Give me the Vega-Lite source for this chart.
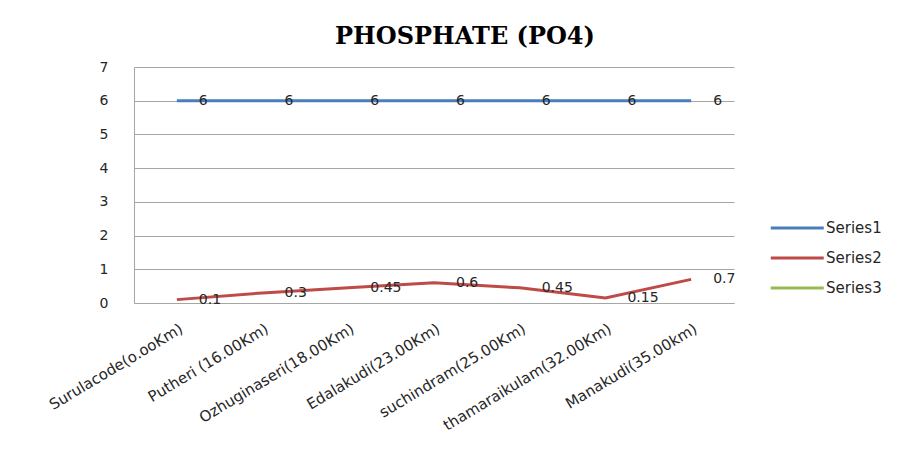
{
  "$schema": "https://vega.github.io/schema/vega-lite/v6.json",
  "autosize": {"type": "none"},
  "padding": {"left": 134, "top": 67, "right": 184, "bottom": 162},
  "width": 600,
  "height": 236,
  "background": "white",
  "title": {
    "text": "PHOSPHATE (PO4)",
    "font": "DejaVu Serif",
    "fontSize": 24,
    "fontWeight": "bold",
    "color": "black",
    "anchor": "middle",
    "baseline": "alphabetic",
    "offset": 20,
    "dx": 31,
    "dy": 28
  },
  "data": {
    "values": [
      {"site": "Surulacode(o.ooKm)", "series": "Series1", "value": 6},
      {"site": "Putheri (16.00Km)", "series": "Series1", "value": 6},
      {"site": "Ozhuginaseri(18.00Km)", "series": "Series1", "value": 6},
      {"site": "Edalakudi(23.00Km)", "series": "Series1", "value": 6},
      {"site": "suchindram(25.00Km)", "series": "Series1", "value": 6},
      {"site": "thamaraikulam(32.00Km)", "series": "Series1", "value": 6},
      {"site": "Manakudi(35.00km)", "series": "Series1", "value": 6},
      {"site": "Surulacode(o.ooKm)", "series": "Series2", "value": 0.1},
      {"site": "Putheri (16.00Km)", "series": "Series2", "value": 0.3},
      {"site": "Ozhuginaseri(18.00Km)", "series": "Series2", "value": 0.45},
      {"site": "Edalakudi(23.00Km)", "series": "Series2", "value": 0.6},
      {"site": "suchindram(25.00Km)", "series": "Series2", "value": 0.45},
      {"site": "thamaraikulam(32.00Km)", "series": "Series2", "value": 0.15},
      {"site": "Manakudi(35.00km)", "series": "Series2", "value": 0.7}
    ]
  },
  "encoding": {
    "x": {
      "field": "site",
      "type": "nominal",
      "sort": null,
      "scale": {"type": "point", "padding": 0.5},
      "axis": {
        "title": null,
        "labelAngle": -31,
        "labelAlign": "right",
        "labelBaseline": "middle",
        "labelPadding": 24,
        "labelOffset": 4,
        "labelFont": "DejaVu Sans",
        "labelFontSize": 15,
        "labelColor": "#262626",
        "labelLimit": 300,
        "ticks": false,
        "domainColor": "#a6a6a6",
        "grid": false
      }
    },
    "y": {
      "field": "value",
      "type": "quantitative",
      "scale": {"domain": [0, 7], "nice": false},
      "axis": {
        "title": null,
        "values": [0, 1, 2, 3, 4, 5, 6, 7],
        "labelFont": "DejaVu Sans",
        "labelFontSize": 14,
        "labelColor": "#262626",
        "labelPadding": 26,
        "ticks": false,
        "domain": true,
        "domainColor": "#a6a6a6",
        "grid": true,
        "gridColor": "#a6a6a6",
        "gridWidth": 1
      }
    }
  },
  "layer": [
    {
      "mark": {"type": "line", "strokeWidth": 3},
      "encoding": {
        "color": {
          "field": "series",
          "type": "nominal",
          "scale": {
            "domain": ["Series1", "Series2", "Series3"],
            "range": ["#4a7ebb", "#be4b48", "#98b954"]
          },
          "legend": {
            "title": null,
            "orient": "none",
            "legendX": 635,
            "legendY": 146,
            "symbolType": "M-1,0H3",
            "symbolSize": 702,
            "symbolStrokeWidth": 3,
            "labelOffset": 27,
            "labelFont": "DejaVu Sans",
            "labelFontSize": 15,
            "labelColor": "#262626",
            "rowPadding": 7
          }
        }
      }
    },
    {
      "mark": {
        "type": "text",
        "align": "left",
        "baseline": "middle",
        "dx": 22,
        "font": "DejaVu Sans",
        "fontSize": 14,
        "color": "#262626"
      },
      "encoding": {
        "text": {"field": "value", "type": "quantitative", "format": "~g"}
      }
    }
  ],
  "config": {
    "view": {"stroke": null}
  }
}
